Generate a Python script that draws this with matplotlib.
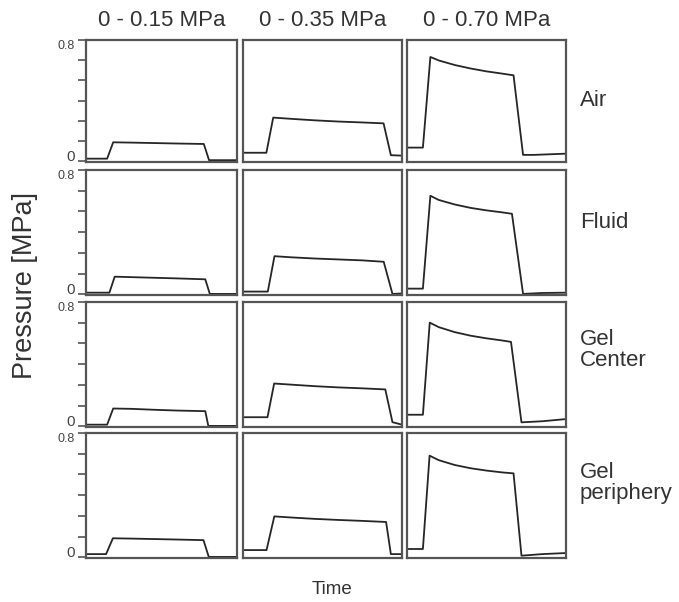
import matplotlib
matplotlib.use("Agg")
import matplotlib.pyplot as plt

plt.rcParams['font.family'] = ['Liberation Sans', 'DejaVu Sans']

columns = ["0 - 0.15 MPa", "0 - 0.35 MPa", "0 - 0.70 MPa"]
rows = ["Air", "Fluid", "Gel\nCenter", "Gel\nperiphery"]

# normalized time (fraction of record) and pressure [MPa] for each panel
air_015_t = [0.0, 0.14, 0.18, 0.30, 0.45, 0.60, 0.78, 0.815, 0.90, 1.0]
air_015_p = [0.017, 0.017, 0.125, 0.123, 0.120, 0.117, 0.114, 0.007, 0.007, 0.007]
air_035_t = [0.0, 0.147, 0.19, 0.30, 0.45, 0.60, 0.75, 0.884, 0.93, 1.0]
air_035_p = [0.056, 0.056, 0.288, 0.280, 0.270, 0.262, 0.256, 0.250, 0.040, 0.037]
air_070_t = [0.0, 0.10, 0.147, 0.20, 0.30, 0.40, 0.50, 0.60, 0.67, 0.73, 0.80, 1.0]
air_070_p = [0.090, 0.090, 0.688, 0.665, 0.635, 0.612, 0.593, 0.578, 0.567, 0.042, 0.042, 0.050]

fluid_015_t = [0.0, 0.155, 0.19, 0.30, 0.45, 0.60, 0.79, 0.82, 0.90, 1.0]
fluid_015_p = [0.010, 0.010, 0.113, 0.110, 0.106, 0.102, 0.096, 0.002, 0.002, 0.002]
fluid_035_t = [0.0, 0.156, 0.198, 0.30, 0.45, 0.60, 0.75, 0.885, 0.94, 1.0]
fluid_035_p = [0.017, 0.017, 0.245, 0.238, 0.230, 0.224, 0.218, 0.209, 0.002, 0.005]
fluid_070_t = [0.0, 0.10, 0.147, 0.20, 0.30, 0.40, 0.50, 0.60, 0.66, 0.73, 0.85, 1.0]
fluid_070_p = [0.036, 0.036, 0.634, 0.607, 0.578, 0.556, 0.540, 0.527, 0.518, 0.002, 0.008, 0.010]

center_015_t = [0.0, 0.14, 0.18, 0.30, 0.45, 0.60, 0.79, 0.81, 0.90, 1.0]
center_015_p = [0.010, 0.010, 0.114, 0.112, 0.106, 0.101, 0.097, 0.002, 0.002, 0.002]
center_035_t = [0.0, 0.154, 0.196, 0.30, 0.45, 0.60, 0.75, 0.895, 0.94, 1.0]
center_035_p = [0.058, 0.058, 0.275, 0.268, 0.258, 0.250, 0.244, 0.237, 0.026, 0.010]
center_070_t = [0.0, 0.10, 0.143, 0.20, 0.30, 0.40, 0.50, 0.60, 0.654, 0.72, 0.85, 1.0]
center_070_p = [0.074, 0.074, 0.667, 0.638, 0.606, 0.583, 0.566, 0.552, 0.543, 0.025, 0.032, 0.046]

periph_015_t = [0.0, 0.133, 0.178, 0.30, 0.45, 0.60, 0.778, 0.813, 0.90, 1.0]
periph_015_p = [0.020, 0.020, 0.122, 0.120, 0.117, 0.114, 0.110, 0.002, 0.002, 0.002]
periph_035_t = [0.0, 0.148, 0.197, 0.30, 0.45, 0.60, 0.75, 0.90, 0.93, 1.0]
periph_035_p = [0.046, 0.046, 0.263, 0.256, 0.247, 0.240, 0.234, 0.227, 0.020, 0.020]
periph_070_t = [0.0, 0.10, 0.142, 0.20, 0.30, 0.40, 0.50, 0.60, 0.67, 0.72, 0.85, 1.0]
periph_070_p = [0.053, 0.053, 0.654, 0.625, 0.594, 0.573, 0.558, 0.546, 0.540, 0.010, 0.020, 0.027]

data = [
    [(air_015_t, air_015_p), (air_035_t, air_035_p), (air_070_t, air_070_p)],
    [(fluid_015_t, fluid_015_p), (fluid_035_t, fluid_035_p), (fluid_070_t, fluid_070_p)],
    [(center_015_t, center_015_p), (center_035_t, center_035_p), (center_070_t, center_070_p)],
    [(periph_015_t, periph_015_p), (periph_035_t, periph_035_p), (periph_070_t, periph_070_p)],
]

W, H = 679, 602
fig = plt.figure(figsize=(W / 100, H / 100), dpi=100)

col_x = [(86, 237), (243, 402), (407, 566)]
row_y = [(40, 162), (170, 295), (302, 427), (433, 558)]
row_label_y = [100, 222, 350, 483]

ticks = [0.8 * i / 6 for i in range(7)]
txt = '#333333'

for r in range(4):
    for c in range(3):
        x0, x1 = col_x[c]
        y0, y1 = row_y[r]
        ax = fig.add_axes([x0 / W, 1 - y1 / H, (x1 - x0) / W, (y1 - y0) / H])
        t, p = data[r][c]
        ax.plot(t, p, color='#262626', lw=1.3)
        ax.set_xlim(0, 1)
        ax.set_ylim(-0.005, 0.8)
        ax.set_xticks([])
        for s in ax.spines.values():
            s.set_color('#555555')
            s.set_linewidth(1.6)
        if c == 0:
            ax.set_yticks(ticks)
            labels = ['0'] + [''] * 5 + ['0.8']
            ax.set_yticklabels(labels)
            ax.tick_params(axis='y', direction='out', length=6, width=1.2,
                           color='#555555', labelcolor='#444444', pad=2)
            tl = ax.get_yticklabels()
            tl[0].set_fontsize(11)
            tl[0].set_verticalalignment('baseline')
            tl[-1].set_fontsize(9)
            tl[-1].set_verticalalignment('top')
        else:
            ax.set_yticks([])
        if r == 0:
            fig.text((x0 + x1) / 2 / W, 1 - 21 / H, columns[c], fontsize=16,
                     color=txt, ha='center', va='center')
    fig.text(580 / W, 1 - row_label_y[r] / H, rows[r], fontsize=16,
             color=txt, ha='left', va='center', linespacing=1.05)

fig.text(25 / W, 1 - 285 / H, "Pressure [MPa]", rotation=90, fontsize=19.5,
         color=txt, ha='center', va='center')
fig.text(332 / W, 1 - 590 / H, "Time", fontsize=13.5, color=txt,
         ha='center', va='center')

fig.savefig("out.png", dpi=100)
